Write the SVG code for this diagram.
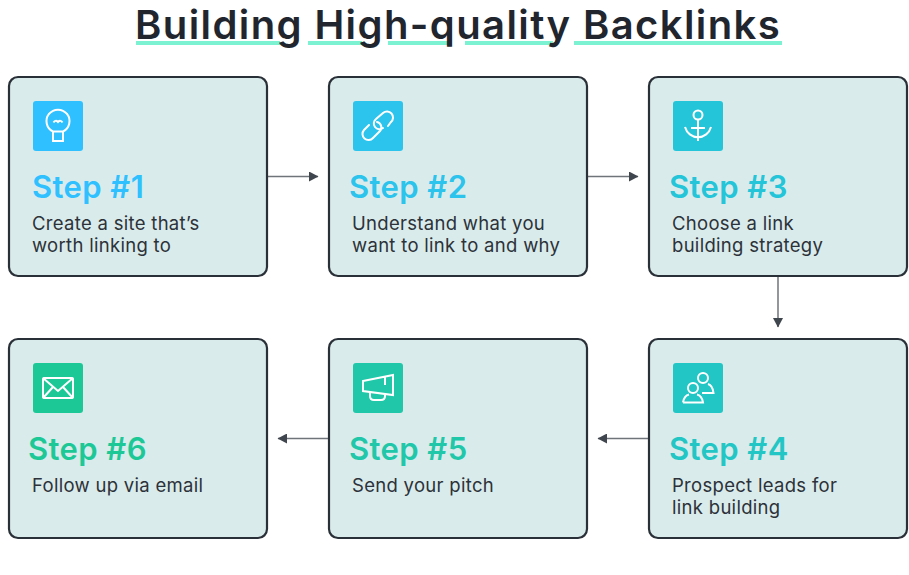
<svg xmlns="http://www.w3.org/2000/svg" width="909" height="575" viewBox="0 0 909 575">
<style>
text{font-family:"Inter","Liberation Sans",sans-serif}
.title{font-size:40px;font-weight:600;fill:#21262e;letter-spacing:1.4px}
.box{fill:#daebeb;stroke:#2a3038;stroke-width:2.2}
.step{font-size:31px;font-weight:600;letter-spacing:0.4px}
.body{font-size:18.500px;fill:#2c3239;letter-spacing:0.3px}
.ic{fill:none;stroke:#fff;stroke-width:2}
.conn{fill:none;stroke:#6f747a;stroke-width:1.5}
.ul{fill:#7df2d2}
</style>
<defs>
<marker id="arrow" markerUnits="userSpaceOnUse" markerWidth="10" markerHeight="10" refX="9" refY="5" orient="auto"><path d="M0 0L9.500 5L0 10Z" fill="#40464d"/></marker>
</defs>
<g id="title">
<rect class="ul" x="136" y="41" width="144" height="4"/><rect class="ul" x="308" y="41" width="54" height="4"/><rect class="ul" x="388" y="41" width="61" height="4"/><rect class="ul" x="465" y="41" width="88" height="4"/><rect class="ul" x="574" y="41" width="208" height="4"/>
<text class="title" x="135" y="38.500">Building High-quality Backlinks</text>
</g>
<g id="connectors">
<path class="conn" marker-end="url(#arrow)" d="M268 176.500H318"/>
<path class="conn" marker-end="url(#arrow)" d="M588 176.500H638"/>
<path class="conn" marker-end="url(#arrow)" d="M778 277V327"/>
<path class="conn" marker-end="url(#arrow)" d="M648 438.500H598"/>
<path class="conn" marker-end="url(#arrow)" d="M328 438.500H278"/>
</g>
<g id="step1">
<rect class="box" x="9" y="77" width="258" height="199" rx="9"/>
<rect x="33" y="101" width="50" height="50" rx="3" fill="#2fc1ff"/>
<path class="ic" d="M53 131.500A11.500 11.500 0 1 1 63 131.500M53 131.500V141H63V131.500M53 131.500H63M53.500 122.500Q55.500 119.500 58 122Q60.500 119.500 62.500 122.500"/>
<text class="step" x="32" y="198" fill="#2fc1ff">Step #1</text>
<text class="body" x="32" y="230">Create a site that’s</text><text class="body" x="32" y="252">worth linking to</text>
</g>
<g id="step2">
<rect class="box" x="329" y="77" width="258" height="199" rx="9"/>
<rect x="353" y="101" width="50" height="50" rx="3" fill="#2cc3ec"/>
<path class="ic" stroke-linecap="round" d="M388 126L391 122A6 6 0 0 0 383 113L376 119A5.500 5.500 0 0 0 383 128M377 122A5.500 5.500 0 0 1 380 131L373 138A6 6 0 0 1 364 130L369 125"/>
<text class="step" x="349" y="198" fill="#2cc3ec">Step #2</text>
<text class="body" x="352" y="230">Understand what you</text><text class="body" x="352" y="252">want to link to and why</text>
</g>
<g id="step3">
<rect class="box" x="649" y="77" width="258" height="199" rx="9"/>
<rect x="673" y="101" width="50" height="50" rx="3" fill="#24c5d9"/>
<circle class="ic" cx="698" cy="115" r="4.500"/>
<path class="ic" d="M698 119.500V141M691 128H705M685 127A13.500 14 0 0 0 711 127"/>
<text class="step" x="669" y="198" fill="#24c5d9">Step #3</text>
<text class="body" x="672" y="230">Choose a link</text><text class="body" x="672" y="252">building strategy</text>
</g>
<g id="step4">
<rect class="box" x="649" y="339" width="258" height="199" rx="9"/>
<rect x="673" y="363" width="50" height="50" rx="3" fill="#22c6c4"/>
<circle class="ic" cx="703" cy="378" r="5"/><circle class="ic" cx="693" cy="388" r="5"/>
<path class="ic" d="M683 402.500C684 397 686 395 689 394.500M697 394.500C700 395 702 397 703 402.500H683M708 384C711 385 713 388 713.500 393H702"/>
<text class="step" x="669" y="460" fill="#22c6c4">Step #4</text>
<text class="body" x="672" y="492">Prospect leads for</text><text class="body" x="672" y="514">link building</text>
</g>
<g id="step5">
<rect class="box" x="329" y="339" width="258" height="199" rx="9"/>
<rect x="353" y="363" width="50" height="50" rx="3" fill="#20c7a8"/>
<path class="ic" d="M363 381L393 375V395L363 391ZM385 376V385M370 392V396Q370 400 374 400H381Q385 400 385 396V394"/>
<text class="step" x="349" y="460" fill="#20c7a8">Step #5</text>
<text class="body" x="352" y="492">Send your pitch</text>
</g>
<g id="step6">
<rect class="box" x="9" y="339" width="258" height="199" rx="9"/>
<rect x="33" y="363" width="50" height="50" rx="3" fill="#1dc897"/>
<rect class="ic" x="43" y="378" width="30" height="20" rx="1"/>
<path class="ic" d="M43 378L58 391L73 378M43 398L53 387M73 398L63 387"/>
<text class="step" x="28" y="460" fill="#1dc897">Step #6</text>
<text class="body" x="32" y="492">Follow up via email</text>
</g>
</svg>
